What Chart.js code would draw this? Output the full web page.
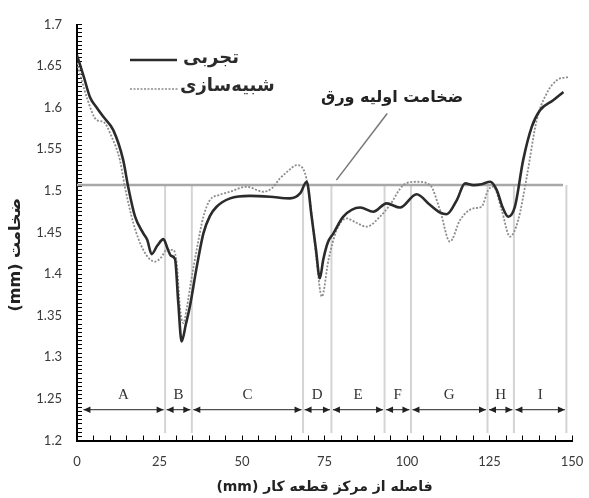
<!DOCTYPE html>
<html><head><meta charset="utf-8">
<script src="https://cdn.jsdelivr.net/npm/chart.js@4/dist/chart.umd.min.js"></script>
<style>html,body{margin:0;padding:0;background:#fff}#wrap{width:589px;height:498px}</style>
</head><body><div id="wrap"><canvas id="c" width="589" height="498"></canvas></div>
<script>
// ---- data (mm, thickness mm) ----
const expX = [0, 2, 3.9, 6, 8, 11, 14, 15.5, 17.6, 20.1, 21.3, 22.6, 24.3, 26.2, 27.5, 28.5, 29.7, 30.7, 31.7, 33, 34.2, 36.3, 38.3, 40.3, 42.3, 46.4, 52.4, 58.5, 64.5, 67.6, 69.6, 71.1, 72.4, 73.6, 74.6, 76, 77.7, 80.7, 85.8, 89.8, 93.8, 97.9, 102.9, 107, 110, 112, 115.1, 117.6, 120.1, 122.6, 125.2, 127.2, 129, 130.7, 132.7, 135.2, 137.8, 140.3, 144.3, 147.4];
const expY = [1.663, 1.638, 1.613, 1.600, 1.589, 1.573, 1.537, 1.505, 1.469, 1.449, 1.441, 1.424, 1.434, 1.442, 1.430, 1.422, 1.418, 1.365, 1.319, 1.340, 1.361, 1.409, 1.449, 1.470, 1.481, 1.491, 1.494, 1.493, 1.491, 1.497, 1.511, 1.469, 1.430, 1.395, 1.417, 1.438, 1.449, 1.469, 1.480, 1.475, 1.485, 1.480, 1.496, 1.483, 1.474, 1.472, 1.489, 1.509, 1.507, 1.508, 1.511, 1.501, 1.480, 1.469, 1.481, 1.537, 1.577, 1.597, 1.609, 1.619];
const simX = [0, 3, 6, 8, 10.5, 13, 14.5, 17.1, 20.1, 23.6, 25.5, 27.2, 29.2, 30.3, 31.2, 32.2, 33.3, 34.5, 36.3, 38.3, 40.3, 43, 46.4, 51.4, 56.5, 59, 61.5, 64, 66.6, 69.1, 70.6, 72.5, 74.2, 76.2, 78.7, 81.7, 84.5, 87.8, 91.8, 94.8, 98.9, 102.9, 107, 110, 113, 116.1, 120.1, 122.6, 124.6, 126.2, 128.7, 131.2, 133.7, 136.3, 139.3, 142.3, 145.4, 148.9];
const simY = [1.654, 1.612, 1.585, 1.583, 1.565, 1.537, 1.505, 1.461, 1.429, 1.415, 1.420, 1.429, 1.429, 1.410, 1.360, 1.341, 1.360, 1.390, 1.430, 1.469, 1.489, 1.495, 1.499, 1.505, 1.499, 1.503, 1.515, 1.524, 1.531, 1.521, 1.489, 1.420, 1.373, 1.417, 1.453, 1.467, 1.462, 1.457, 1.469, 1.483, 1.507, 1.511, 1.507, 1.477, 1.439, 1.465, 1.479, 1.481, 1.501, 1.505, 1.477, 1.445, 1.465, 1.517, 1.585, 1.617, 1.633, 1.637];

const seriesNames = ['تجربی', 'شبیه‌سازی'];
const initialThickness = 1.507;
const initialLineStart = 0;
const initialLineEnd = 147.3;
const boundaries = [26.7, 34.8, 68.5, 77.1, 93.2, 101.2, 124.4, 132.4, 148.3];
const separatorBottom = 1.209;
const regionLabels = ['A', 'B', 'C', 'D', 'E', 'F', 'G', 'H', 'I'];
const regionStarts = [1.5, 26.7, 34.8, 68.5, 77.1, 93.2, 101.2, 124.4, 132.4];
const regionEnds = [26.7, 34.8, 68.5, 77.1, 93.2, 101.2, 124.4, 132.4, 148.3];
const arrowLevel = 1.237;
const regionLabelLevel = 1.255;
const annotationText = 'ضخامت اولیه ورق';
const annotationAt = [95.5, 1.612];
const leaderFrom = [94, 1.593];
const leaderTo = [78.6, 1.513];
const xTitle = '(mm) فاصله از مرکز قطعه کار';
const yTitle = '(mm) ضخامت        ';
const yMin = 1.2, yMax = 1.7, yMajor = 0.05, yMinor = 0.005;
const xMin = 0, xMax = 150, xMajor = 25, xMinor = 5;

const zip = (xs, ys) => xs.map((x, i) => ({x, y: ys[i]}));
const sepData = [];
boundaries.forEach(b => { sepData.push({x: b, y: initialThickness}, {x: b, y: separatorBottom}, {x: b, y: null}); });

const overlay = {
  id: 'overlay',
  afterDatasetsDraw(chart) {
    const ctx = chart.ctx, xs = chart.scales.x, ys = chart.scales.y;
    ctx.save();
    ctx.strokeStyle = '#222'; ctx.fillStyle = '#222'; ctx.lineWidth = 1;
    const ay = ys.getPixelForValue(arrowLevel);
    const head = (x, dir) => { ctx.beginPath(); ctx.moveTo(x, ay); ctx.lineTo(x - dir * 7, ay - 3.2); ctx.lineTo(x - dir * 7, ay + 3.2); ctx.closePath(); ctx.fill(); };
    regionLabels.forEach((lab, i) => {
      const x1 = xs.getPixelForValue(regionStarts[i]) + 1.5, x2 = xs.getPixelForValue(regionEnds[i]) - 1.5;
      ctx.beginPath(); ctx.moveTo(x1, ay); ctx.lineTo(x2, ay); ctx.stroke();
      head(x1, -1); head(x2, 1);
    });
    ctx.font = '15px "Liberation Serif"'; ctx.fillStyle = '#333'; ctx.textAlign = 'center'; ctx.textBaseline = 'middle';
    const ly = ys.getPixelForValue(regionLabelLevel);
    regionLabels.forEach((lab, i) => {
      ctx.fillText(lab, xs.getPixelForValue((regionStarts[i] + regionEnds[i]) / 2), ly);
    });
    ctx.strokeStyle = '#777'; ctx.lineWidth = 1.5;
    ctx.beginPath(); ctx.moveTo(xs.getPixelForValue(leaderFrom[0]), ys.getPixelForValue(leaderFrom[1]));
    ctx.lineTo(xs.getPixelForValue(leaderTo[0]), ys.getPixelForValue(leaderTo[1])); ctx.stroke();
    ctx.font = 'bold 16px "DejaVu Sans"'; ctx.fillStyle = '#222';
    ctx.fillText(annotationText, xs.getPixelForValue(annotationAt[0]), ys.getPixelForValue(annotationAt[1]));
    ctx.textAlign = 'left';
    ctx.strokeStyle = '#2b2b2b'; ctx.lineWidth = 2.5; ctx.setLineDash([]);
    ctx.beginPath(); ctx.moveTo(130, 60); ctx.lineTo(177, 60); ctx.stroke();
    ctx.strokeStyle = '#8a8a8a'; ctx.lineWidth = 1.6; ctx.setLineDash([2, 1.5]);
    ctx.beginPath(); ctx.moveTo(130, 89); ctx.lineTo(178, 89); ctx.stroke();
    ctx.setLineDash([]);
    ctx.font = 'bold 18px "DejaVu Sans"'; ctx.fillStyle = '#2b2b2b';
    ctx.fillText(seriesNames[0], 183, 58);
    ctx.fillText(seriesNames[1], 180, 86);
    ctx.restore();
  }
};

const isMult = (v, s) => Math.abs(v / s - Math.round(v / s)) < 1e-6;

new Chart(document.getElementById('c'), {
  type: 'line',
  data: {
    datasets: [
      {label: seriesNames[0], data: zip(expX, expY), borderColor: '#2b2b2b', borderWidth: 2.6, pointRadius: 0, cubicInterpolationMode: 'monotone', fill: false},
      {label: seriesNames[1], data: zip(simX, simY), borderColor: '#8c8c8c', borderWidth: 1.8, borderDash: [2, 1.6], pointRadius: 0, cubicInterpolationMode: 'monotone', fill: false},
      {label: 'initial', data: [{x: initialLineStart, y: initialThickness}, {x: initialLineEnd, y: initialThickness}], borderColor: '#a8a8a8', borderWidth: 2.5, pointRadius: 0, tension: 0},
      {label: 'sep', data: sepData, borderColor: '#d4d4d4', borderWidth: 2, pointRadius: 0, tension: 0, spanGaps: false}
    ]
  },
  options: {
    responsive: false, animation: false, devicePixelRatio: 1,
    layout: {padding: {left: 0, right: 17, top: 24.5, bottom: 0}},
    plugins: {legend: {display: false}, tooltip: {enabled: false}},
    scales: {
      x: {
        type: 'linear', min: xMin, max: xMax,
        afterFit: s => { s.height = 57.5; s.paddingLeft = 0; s.paddingRight = 0; },
        border: {display: true, color: '#000', width: 2},
        grid: {display: true, drawOnChartArea: false, drawTicks: true, tickLength: -5, tickColor: '#000', tickWidth: 1},
        ticks: {stepSize: xMinor, autoSkip: false, maxRotation: 0, padding: 19, color: '#3a3a3a', font: {family: 'Lato', size: 13},
          callback: v => isMult(v, xMajor) ? String(Math.round(v)) : ''},
        title: {display: true, text: xTitle, color: '#222', font: {family: 'DejaVu Sans', size: 14, weight: 'bold'}, padding: {top: 2, bottom: 2}}
      },
      y: {
        type: 'linear', min: yMin, max: yMax,
        afterFit: s => { s.width = 77; s.paddingTop = 0; s.paddingBottom = 0; },
        border: {display: true, color: '#000', width: 2},
        grid: {display: true, drawOnChartArea: false, drawTicks: true, tickLength: -5, tickColor: '#000', tickWidth: 1},
        ticks: {stepSize: yMinor, autoSkip: false, padding: 20, color: '#3a3a3a', font: {family: 'Lato', size: 13},
          callback: v => isMult(v, yMajor) ? String(Math.round(v * 100) / 100) : ''},
        title: {display: true, text: yTitle, color: '#222', font: {family: 'DejaVu Sans', size: 16, weight: 'bold'}, padding: {top: 6, bottom: 4}}
      }
    }
  },
  plugins: [overlay]
});
</script></body></html>
